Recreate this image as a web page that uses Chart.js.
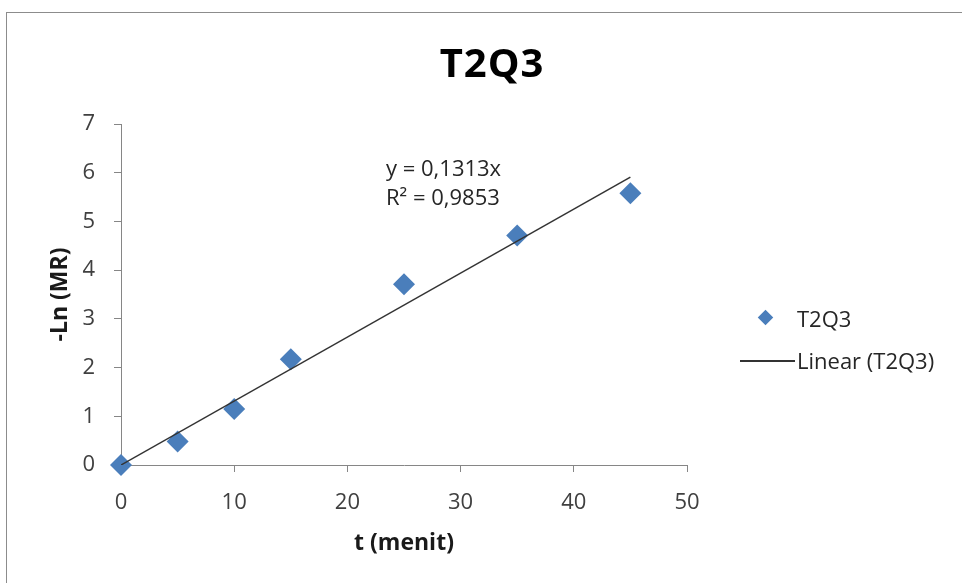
<!DOCTYPE html>
<html>
<head>
<meta charset="utf-8">
<script src="https://cdn.jsdelivr.net/npm/chart.js@4.4.0/dist/chart.umd.min.js"></script>
<style>
  body { margin: 0; background: #fff; }
  #wrap { position: relative; width: 962px; height: 583px; overflow: hidden; font-family: "Open Sans", sans-serif; }
  #frame { position: absolute; left: 6px; top: 12px; width: 1000px; height: 700px;
    border-left: 1.5px solid #8c8c8c; border-top: 1.5px solid #8c8c8c; }
  canvas { position: absolute; left: 0; top: 0; }
  #title { position: absolute; left: 392px; width: 200px; top: 36px; text-align: center;
    font-size: 40px; font-weight: bold; line-height: 52px; color: #000; letter-spacing: 1px; }
  .txt { position: absolute; font-size: 22px; color: #262626; line-height: 30px; white-space: nowrap; }
  .dia { position: absolute; width: 11px; height: 11px; background: #4a7ebb; transform: rotate(45deg); }
  .lin { position: absolute; height: 1.5px; background: #333; }
</style>
</head>
<body>
<div id="wrap">
  <div id="frame"></div>
  <canvas id="c" width="962" height="583"></canvas>
  <div id="title">T2Q3</div>
  <div class="txt" style="left:386px;top:152px">y = 0,1313x</div>
  <div class="txt" style="left:386px;top:181px">R² = 0,9853</div>
  <div class="dia" style="left:760px;top:312px"></div>
  <div class="txt" style="left:797px;top:303px">T2Q3</div>
  <div class="lin" style="left:740px;top:360px;width:55px"></div>
  <div class="txt" style="left:797px;top:345px">Linear (T2Q3)</div>
</div>
<script>
// t (menit) vs -Ln(MR)
const times = [0, 5, 10, 15, 25, 35, 45];
const lnMR = [0, 0.48, 1.15, 2.17, 3.71, 4.71, 5.58];
// trendline y = 0,1313x, drawn from 0 to 45
const trendX = [0, 45];
const trendY = [0, 5.9085];
const xTicks = [0, 10, 20, 30, 40, 50];
const yTicks = [0, 1, 2, 3, 4, 5, 6, 7];

const axisColor = '#868686';
const ctx = document.getElementById('c').getContext('2d');

new Chart(ctx, {
  data: {
    datasets: [
      {
        type: 'line',
        label: 'Linear (T2Q3)',
        data: trendX.map((x, i) => ({ x: x, y: trendY[i] })),
        borderColor: '#333333',
        borderWidth: 1.5,
        pointRadius: 0,
        fill: false,
        order: 0,
      },
      {
        type: 'scatter',
        label: 'T2Q3',
        data: times.map((t, i) => ({ x: t, y: lnMR[i] })),
        pointStyle: 'rectRot',
        pointRadius: 11,
        pointHoverRadius: 11,
        backgroundColor: '#4a7ebb',
        borderColor: '#4a7ebb',
        borderWidth: 0,
        clip: false,
        order: 1,
      },
    ],
  },
  options: {
    responsive: false,
    animation: { duration: 0 },
    layout: { padding: { top: 124, right: 275, bottom: 0, left: 0 } },
    plugins: {
      legend: { display: false },
      tooltip: { enabled: false },
      title: { display: false },
    },
    scales: {
      x: {
        type: 'linear',
        min: 0,
        max: 50,
        afterBuildTicks: (s) => { s.ticks = xTicks.map(v => ({ value: v })); },
        afterFit: (s) => { s.height = 118; },
        ticks: { color: '#404040', font: { family: 'Open Sans', size: 22 }, padding: 18 },
        grid: { drawOnChartArea: false, tickLength: 7, tickColor: axisColor },
        border: { color: axisColor, width: 1 },
        title: {
          display: true,
          text: 't (menit)',
          color: '#1a1a1a',
          font: { family: 'Open Sans', size: 23, weight: 'bold' },
          padding: { top: 0, bottom: 26 },
        },
      },
      y: {
        type: 'linear',
        min: 0,
        max: 7,
        afterBuildTicks: (s) => { s.ticks = yTicks.map(v => ({ value: v })); },
        afterFit: (s) => { s.width = 121; },
        ticks: { color: '#404040', font: { family: 'Open Sans', size: 22 }, padding: 19 },
        grid: { drawOnChartArea: false, tickLength: 7, tickColor: axisColor },
        border: { color: axisColor, width: 1 },
        title: {
          display: true,
          text: '-Ln (MR)',
          color: '#1a1a1a',
          font: { family: 'Open Sans', size: 23, weight: 'bold' },
          padding: { top: 47, bottom: 0 },
        },
      },
    },
  },
});
</script>
</body>
</html>
